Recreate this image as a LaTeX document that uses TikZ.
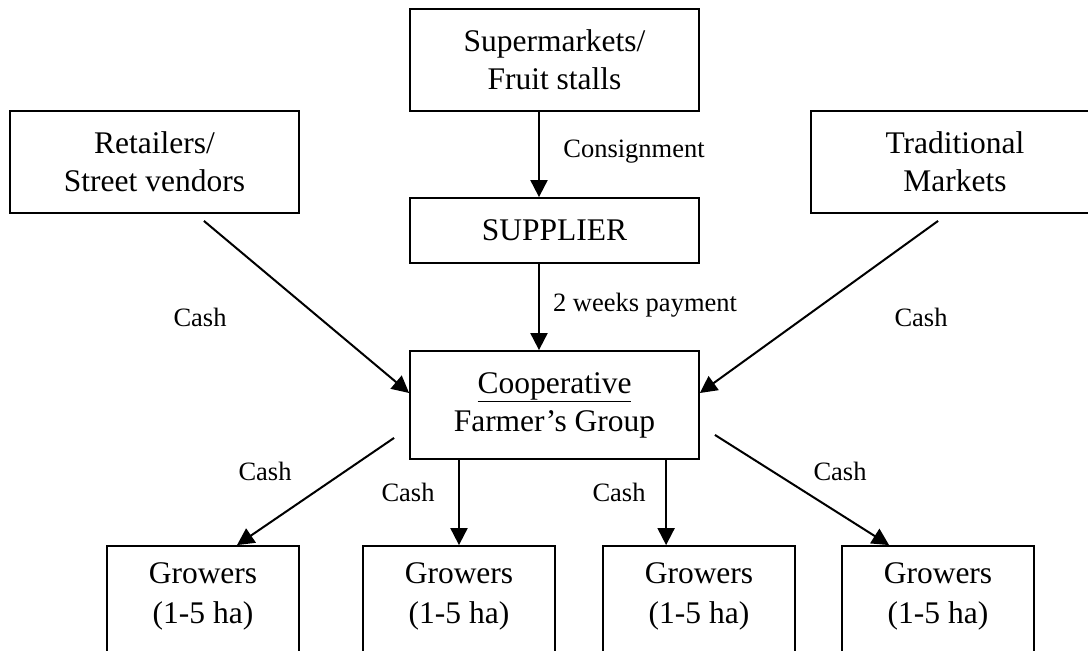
\documentclass[tikz,border=0pt]{standalone}
\usepackage{fontspec}
\setmainfont{Liberation Serif}
\usetikzlibrary{arrows.meta,calc}
\begin{document}
\begin{tikzpicture}[x=1pt,y=-1pt,
  box/.style={draw=black,line width=1.8pt,inner sep=0pt,align=center,
    font=\fontsize{31.5}{38}\selectfont},
  boxtext/.style={inner sep=0pt,align=center,font=\fontsize{31.5}{40}\selectfont},
  lbl/.style={inner sep=0pt,font=\fontsize{26.5}{30}\selectfont},
  flow/.style={line width=2pt,-{Triangle[length=17pt,width=17pt]}}]
  \useasboundingbox (0,0) rectangle (1088,651);
  \fill[white] (0,0) rectangle (1088,651);
  \clip (0,0) rectangle (1088,651);

  % buyers
  \node[box,minimum width=289,minimum height=102] (super) at (554.5,60) {Supermarkets/\\Fruit stalls};
  \node[box,minimum width=289,minimum height=102] (ret) at (154.5,162) {Retailers/\\Street vendors};
  \node[box,minimum width=288,minimum height=102] (trad) at (955,162) {Traditional\\Markets};

  % intermediaries
  \node[box,minimum width=289,minimum height=65] (supp) at (554.5,230.5) {SUPPLIER};
  \node[box,minimum width=289,minimum height=108] (coop) at (554.5,405) {\underline{Cooperative}\\Farmer’s Group};

  % growers
  \foreach \i/\x in {1/203,2/459,3/699,4/938}{
    \node[box,minimum width=192,minimum height=130] (g\i) at (\x,611) {};
    \node[boxtext] (g\i t) at ($(g\i.north)+(0,51)$) {Growers\\(1-5 ha)};
  }

  % drop points of the two straight lines into the middle growers
  \coordinate (d2) at (g2.north);
  \coordinate (d3) at ($(g3.north west)+(64,0)$);

  % payment flows
  \draw[flow] ($(super.south)+(-15.5,0)$) -- ($(supp.north)+(-15.5,0)$);
  \draw[flow] ($(supp.south)+(-15.5,0)$) -- ($(coop.north)+(-15.5,0)$);
  \draw[flow] ($(ret.south east)+(-96,7)$) -- ($(coop.west)+(0,-12)$);
  \draw[flow] ($(trad.south west)+(128,7)$) -- ($(coop.east)+(0,-12)$);
  \draw[flow] ($(coop.south west)+(-15,-22)$) -- ($(g1.north)+(34,0)$);
  \draw[flow] (d2 |- coop.south) -- (d2);
  \draw[flow] (d3 |- coop.south) -- (d3);
  \draw[flow] ($(coop.south east)+(15,-25)$) -- ($(g4.north west)+(48,0)$);

  % flow labels
  \node[lbl] (lcons) at (634,152) {Consignment};
  \node[lbl] (lpay) at (645,305) {2 weeks payment};
  \node[lbl] (lret) at (200,317) {Cash};
  \node[lbl] (ltrad) at (921,317) {Cash};
  \node[lbl] (lg1) at (265,471) {Cash};
  \node[lbl] (lg2) at (408,492) {Cash};
  \node[lbl] (lg3) at (619,492) {Cash};
  \node[lbl] (lg4) at (840,471) {Cash};
\end{tikzpicture}
\end{document}
